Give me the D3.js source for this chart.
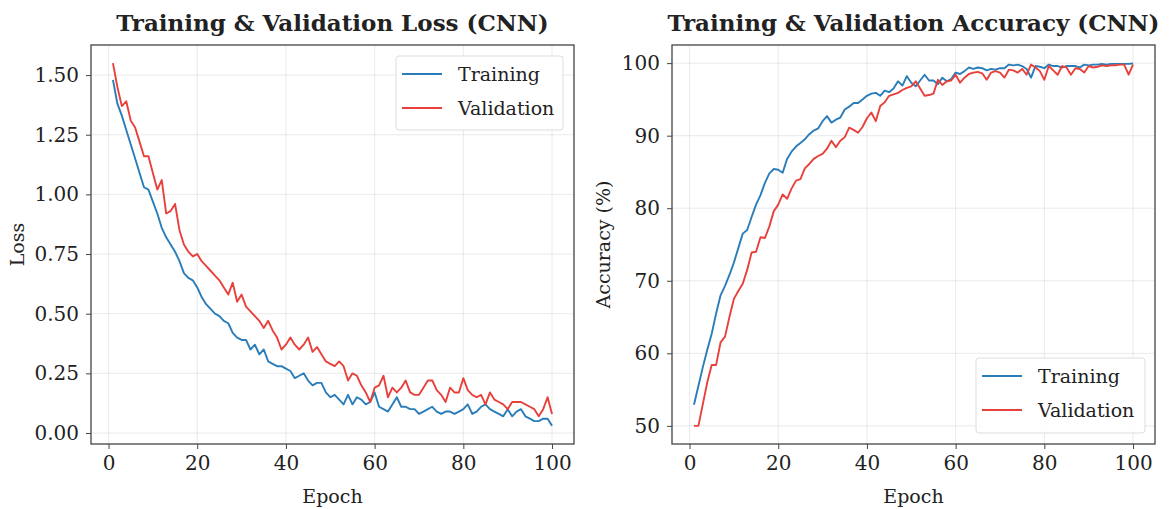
<!DOCTYPE html>
<html>
<head>
<meta charset="utf-8">
<script src="https://cdn.jsdelivr.net/npm/d3@7"></script>
<style>
  html, body { margin: 0; padding: 0; background: #ffffff; }
  svg { display: block; }
  text { font-family: "DejaVu Serif", serif; fill: #222; }
</style>
</head>
<body>
<svg id="chart" width="1170" height="509"></svg>
<script>
// ---------------- DATA ----------------
const epochs = d3.range(1, 101);

const lossTraining = [
  1.48, 1.38, 1.33, 1.27, 1.21, 1.15, 1.09, 1.03, 1.02, 0.97,
  0.92, 0.86, 0.82, 0.79, 0.76, 0.72, 0.67, 0.65, 0.64, 0.61,
  0.57, 0.54, 0.52, 0.50, 0.49, 0.47, 0.46, 0.42, 0.40, 0.39,
  0.39, 0.35, 0.37, 0.33, 0.35, 0.30, 0.29, 0.28, 0.28, 0.27,
  0.26, 0.23, 0.24, 0.25, 0.22, 0.20, 0.21, 0.21, 0.17, 0.15,
  0.16, 0.14, 0.12, 0.16, 0.12, 0.15, 0.14, 0.12, 0.13, 0.17,
  0.11, 0.10, 0.09, 0.12, 0.15, 0.11, 0.11, 0.10, 0.10, 0.08,
  0.09, 0.10, 0.11, 0.09, 0.08, 0.09, 0.09, 0.08, 0.09, 0.10,
  0.12, 0.08, 0.09, 0.11, 0.12, 0.10, 0.09, 0.08, 0.07, 0.10,
  0.07, 0.09, 0.10, 0.07, 0.06, 0.05, 0.05, 0.06, 0.06, 0.03
];

const lossValidation = [
  1.55, 1.45, 1.37, 1.39, 1.31, 1.28, 1.22, 1.16, 1.16, 1.09,
  1.02, 1.06, 0.92, 0.93, 0.96, 0.85, 0.79, 0.76, 0.74, 0.75,
  0.72, 0.70, 0.68, 0.66, 0.64, 0.61, 0.58, 0.63, 0.55, 0.58,
  0.53, 0.51, 0.49, 0.47, 0.44, 0.47, 0.43, 0.40, 0.35, 0.37,
  0.40, 0.37, 0.35, 0.37, 0.40, 0.34, 0.36, 0.33, 0.30, 0.29,
  0.28, 0.30, 0.28, 0.22, 0.25, 0.24, 0.20, 0.17, 0.13, 0.19,
  0.20, 0.24, 0.15, 0.19, 0.17, 0.19, 0.22, 0.17, 0.16, 0.16,
  0.19, 0.22, 0.22, 0.18, 0.16, 0.13, 0.19, 0.17, 0.17, 0.23,
  0.18, 0.16, 0.15, 0.16, 0.12, 0.17, 0.14, 0.13, 0.12, 0.10,
  0.13, 0.13, 0.13, 0.12, 0.11, 0.10, 0.07, 0.10, 0.15, 0.08
];

const accTraining = [
  52.9, 55.5, 58.1, 60.5, 62.7, 65.5, 68.0, 69.3, 70.8, 72.5,
  74.5, 76.5, 77.0, 78.8, 80.5, 81.8, 83.5, 84.8, 85.4, 85.3,
  84.9, 86.8, 87.8, 88.5, 89.0, 89.5, 90.2, 90.7, 91.0, 92.0,
  92.7, 91.8, 92.2, 92.5, 93.6, 94.0, 94.5, 94.5, 95.0, 95.5,
  95.8, 95.9, 95.5, 96.2, 96.0, 96.5, 97.5, 96.9, 98.2, 97.3,
  96.8, 97.6, 98.4, 97.6, 97.6, 97.1, 98.0, 97.5, 97.8, 98.7,
  98.5, 98.9, 99.4, 99.2, 99.4, 99.3, 99.0, 99.2, 99.1, 99.3,
  99.3, 99.8, 99.7, 99.8, 99.6, 99.2, 98.0, 99.6, 99.5, 99.3,
  99.8, 99.6, 99.6, 99.4, 99.6, 99.6, 99.6, 99.4, 99.8, 99.7,
  99.8, 99.8, 99.9, 99.8, 99.9, 99.9, 99.9, 99.9, 99.9, 99.95
];

const accValidation = [
  50.0, 50.0, 53.0, 56.0, 58.4, 58.4, 61.5, 62.3, 65.0, 67.5,
  68.6, 69.6, 71.5, 73.9, 74.0, 76.0, 75.9, 77.5, 79.6, 80.5,
  81.9, 81.3, 82.7, 83.8, 84.0, 85.5, 86.1, 86.8, 87.2, 87.5,
  88.2, 89.3, 88.4, 89.3, 89.8, 91.1, 90.8, 90.4, 91.2, 92.4,
  93.2, 92.0, 94.1, 94.6, 95.5, 95.7, 95.9, 96.3, 96.6, 96.8,
  97.5, 96.5, 95.5, 95.6, 95.8, 97.7, 97.0, 97.5, 97.6, 98.4,
  97.3, 98.0, 98.5, 98.7, 98.8, 98.6, 97.7, 98.7, 98.9, 98.7,
  98.0, 99.1, 99.0, 98.7, 99.2, 98.4, 99.8, 99.4, 98.9, 97.7,
  99.6, 99.0, 98.4, 99.6, 99.4, 98.4, 99.3, 99.2, 98.7, 99.6,
  99.4, 99.5, 99.7, 99.6, 99.7, 99.7, 99.8, 99.8, 98.4, 99.8
];

const xTicks = [0, 20, 40, 60, 80, 100];
const lossTicks = [0.00, 0.25, 0.50, 0.75, 1.00, 1.25, 1.50];
const accTicks = [50, 60, 70, 80, 90, 100];
const seriesNames = ["Training", "Validation"];
const titles = ["Training & Validation Loss (CNN)", "Training & Validation Accuracy (CNN)"];
const yLabels = ["Loss", "Accuracy (%)"];
const xLabel = "Epoch";

// ---------------- STYLE ----------------
const colors = ["#2a7db9", "#e8413c"];
const svg = d3.select("#chart");

function panel(cfg) {
  const { left, right, top, bottom, xDomain, yDomain, yTicks, yFmt, series, title, yLabel, legendPos, yLabelX } = cfg;
  const x = d3.scaleLinear().domain(xDomain).range([left, right]);
  const y = d3.scaleLinear().domain(yDomain).range([bottom, top]);
  const g = svg.append("g");

  // grid
  g.append("g").selectAll("line.gx").data(xTicks).join("line")
    .attr("x1", d => x(d)).attr("x2", d => x(d))
    .attr("y1", top).attr("y2", bottom)
    .attr("stroke", "#b0b0b0").attr("stroke-opacity", 0.3).attr("stroke-width", 0.9);
  g.append("g").selectAll("line.gy").data(yTicks).join("line")
    .attr("x1", left).attr("x2", right)
    .attr("y1", d => y(d)).attr("y2", d => y(d))
    .attr("stroke", "#b0b0b0").attr("stroke-opacity", 0.3).attr("stroke-width", 0.9);

  // lines
  const line = d3.line().x((d, i) => x(epochs[i])).y(d => y(d));
  series.forEach((s, k) => {
    g.append("path").datum(s).attr("d", line)
      .attr("fill", "none").attr("stroke", colors[k]).attr("stroke-width", 1.9)
      .attr("stroke-linejoin", "round");
  });

  // axes
  const xAxis = d3.axisBottom(x).tickValues(xTicks).tickFormat(d3.format("d")).tickSize(5).tickPadding(7);
  const ax = g.append("g").attr("transform", `translate(0,${bottom})`).call(xAxis);
  const yAxis = d3.axisLeft(y).tickValues(yTicks).tickFormat(yFmt).tickSize(5).tickPadding(7);
  const ay = g.append("g").attr("transform", `translate(${left},0)`).call(yAxis);
  [ax, ay].forEach(a => {
    a.select(".domain").remove();
    a.selectAll(".tick line").attr("stroke", "#444").attr("stroke-width", 1);
    a.selectAll(".tick text").style("font-family", "DejaVu Serif").style("font-size", "20px").attr("fill", "#222");
  });

  // frame
  g.append("rect").attr("x", left).attr("y", top).attr("width", right - left).attr("height", bottom - top)
    .attr("fill", "none").attr("stroke", "#444").attr("stroke-width", 1.3);

  // title
  g.append("text").attr("x", (left + right) / 2).attr("y", 31).attr("text-anchor", "middle")
    .style("font-size", "23px").style("font-weight", "bold").attr("fill", "#111").text(title);
  // x label
  g.append("text").attr("x", (left + right) / 2).attr("y", 503).attr("text-anchor", "middle")
    .style("font-size", "19px").text(xLabel);
  // y label
  g.append("text").attr("transform", `translate(${yLabelX},${(top + bottom) / 2}) rotate(-90)`)
    .attr("text-anchor", "middle").style("font-size", "19px").text(yLabel);

  // legend
  const lg = g.append("g");
  lg.append("rect").attr("x", legendPos.x).attr("y", legendPos.y).attr("width", legendPos.w).attr("height", legendPos.h)
    .attr("rx", 3).attr("fill", "#ffffff").attr("fill-opacity", 0.85).attr("stroke", "#dddddd").attr("stroke-width", 1);
  seriesNames.forEach((name, k) => {
    const cy = legendPos.y + 18 + k * 34;
    lg.append("line").attr("x1", legendPos.x + 6).attr("x2", legendPos.x + 46).attr("y1", cy).attr("y2", cy)
      .attr("stroke", colors[k]).attr("stroke-width", 1.9);
    lg.append("text").attr("x", legendPos.x + 62).attr("y", cy).attr("dy", "0.35em")
      .style("font-size", "19px").text(name);
  });
}

panel({
  left: 91, right: 574, top: 45, bottom: 444,
  xDomain: [-3.95, 104.95], yDomain: [-0.046, 1.626],
  yTicks: lossTicks, yFmt: d3.format(".2f"),
  series: [lossTraining, lossValidation],
  title: titles[0], yLabel: yLabels[0], yLabelX: 24,
  legendPos: { x: 396, y: 56, w: 167, h: 74 }
});

panel({
  left: 672, right: 1155, top: 45, bottom: 444,
  xDomain: [-3.95, 104.95], yDomain: [47.5, 102.5],
  yTicks: accTicks, yFmt: d3.format("d"),
  series: [accTraining, accValidation],
  title: titles[1], yLabel: yLabels[1], yLabelX: 610,
  legendPos: { x: 976, y: 358, w: 169, h: 75 }
});
</script>
</body>
</html>
